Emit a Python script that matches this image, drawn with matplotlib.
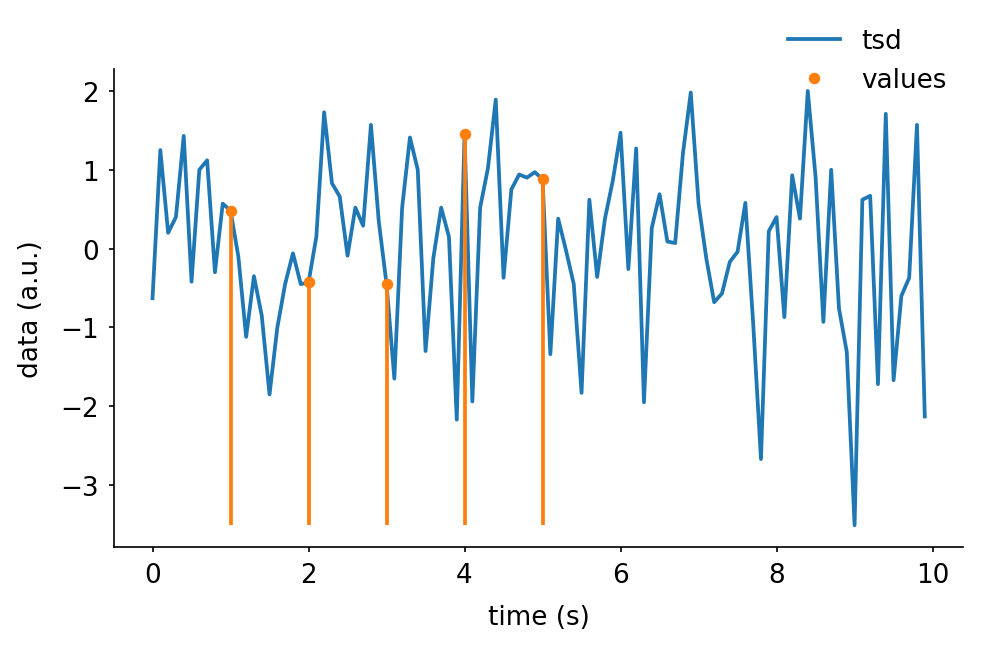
import numpy as np
import matplotlib
matplotlib.use("Agg")
import matplotlib.pyplot as plt

# time series sampled every 0.1 s
t = np.arange(100) / 10
d = [-0.63, 1.25, 0.20, 0.40, 1.43, -0.42, 1.00, 1.12, -0.30, 0.57,
     0.48, -0.10, -1.12, -0.35, -0.85, -1.85, -1.00, -0.45, -0.06, -0.45,
     -0.43, 0.15, 1.73, 0.83, 0.66, -0.09, 0.52, 0.29, 1.57, 0.35,
     -0.45, -1.65, 0.52, 1.41, 1.00, -1.30, -0.12, 0.52, 0.15, -2.17,
     1.45, -1.94, 0.52, 1.02, 1.89, -0.37, 0.75, 0.94, 0.90, 0.97,
     0.88, -1.34, 0.38, -0.02, -0.45, -1.83, 0.62, -0.36, 0.38, 0.86,
     1.47, -0.26, 1.27, -1.95, 0.26, 0.69, 0.09, 0.07, 1.21, 1.98,
     0.57, -0.13, -0.68, -0.57, -0.17, -0.04, 0.58, -0.95, -2.67, 0.22,
     0.40, -0.87, 0.93, 0.38, 2.00, 0.91, -0.93, 1.00, -0.76, -1.31,
     -3.51, 0.62, 0.67, -1.72, 1.71, -1.67, -0.60, -0.37, 1.57, -2.13]

# sampled values
vt = [1, 2, 3, 4, 5]
vd = [0.48, -0.43, -0.45, 1.45, 0.88]

plt.rcParams["font.size"] = 12.6
plt.rcParams["xtick.major.size"] = 2.6
plt.rcParams["ytick.major.size"] = 2.6
plt.rcParams["xtick.major.pad"] = 4.5
plt.rcParams["ytick.major.pad"] = 4.5

fig = plt.figure(figsize=(6.547, 4.333), dpi=150)
ax = fig.add_axes([0.116, 0.157, 0.865, 0.735])
ax.plot(t, d, lw=1.8, label="tsd")
ax.vlines(vt, min(d), vd, color="C1", lw=1.8)
ax.plot(vt, vd, "o", color="C1", ms=4.5, label="values")
ax.set_xlabel("time (s)", labelpad=8)
ax.set_ylabel("data (a.u.)", labelpad=8)
ax.spines["top"].set_visible(False)
ax.spines["right"].set_visible(False)
ax.legend(loc="upper right", bbox_to_anchor=(1.008, 1.135), frameon=False)

fig.savefig("out.png")
